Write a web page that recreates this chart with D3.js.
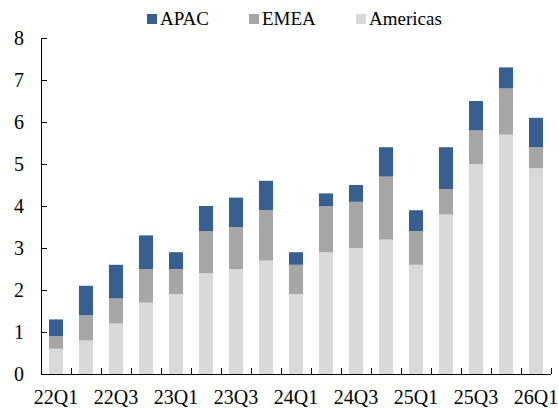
<!DOCTYPE html>
<html><head><meta charset="utf-8">
<script src="https://cdn.jsdelivr.net/npm/d3@7"></script>
<style>body{margin:0;background:#fff}svg{display:block}
svg text{font-family:"Liberation Serif","Times New Roman",Times,"DejaVu Serif",serif;fill:#000}</style>
</head><body>
<svg id="c" width="558" height="408"></svg>
<script>
const quarters = ["22Q1","22Q2","22Q3","22Q4","23Q1","23Q2","23Q3","23Q4","24Q1","24Q2","24Q3","24Q4","25Q1","25Q2","25Q3","25Q4","26Q1"];
const americas = [0.6,0.8,1.2,1.7,1.9,2.4,2.5,2.7,1.9,2.9,3.0,3.2,2.6,3.8,5.0,5.7,4.9];
const emea     = [0.3,0.6,0.6,0.8,0.6,1.0,1.0,1.2,0.7,1.1,1.1,1.5,0.8,0.6,0.8,1.1,0.5];
const apac     = [0.4,0.7,0.8,0.8,0.4,0.6,0.7,0.7,0.3,0.3,0.4,0.7,0.5,1.0,0.7,0.5,0.7];
const seriesNames = ["Americas","EMEA","APAC"];
const colors = {"Americas":"#d9d9d9","EMEA":"#a6a6a6","APAC":"#376092"};
const legendOrder = ["APAC","EMEA","Americas"];
const yTicks = [0,1,2,3,4,5,6,7,8];

const svg = d3.select("#c");
const x = d3.scaleBand().domain(quarters).range([41,551]).paddingInner(0.53).paddingOuter(0.265);
const y = d3.scaleLinear().domain([0,8]).range([374,38]);

const table = quarters.map((q,i)=>({q, Americas:americas[i], EMEA:emea[i], APAC:apac[i]}));
const stack = d3.stack().keys(seriesNames)(table);

svg.append("g").selectAll("g").data(stack).join("g")
  .attr("fill", d=>colors[d.key])
  .selectAll("rect").data(d=>d).join("rect")
  .attr("x", d=>x(d.data.q))
  .attr("width", x.bandwidth())
  .attr("y", d=>y(d[1]))
  .attr("height", d=>y(d[0])-y(d[1]));

// y axis
const ya = svg.append("g").attr("transform","translate(41,0)")
  .call(d3.axisRight(y).tickValues(yTicks).tickSize(6).tickFormat(d3.format("d")));
ya.attr("font-family",null).attr("font-size",null);
ya.select(".domain").attr("d","M0.5,38V374.5").attr("stroke","#000");
ya.selectAll(".tick line").attr("stroke","#000");
ya.selectAll(".tick text").attr("x",-17).attr("text-anchor","end")
  .style("font-size","20px").attr("dy","0.32em");

// x axis
const xg = svg.append("g");
xg.append("line").attr("x1",41).attr("x2",551).attr("y1",374.5).attr("y2",374.5).attr("stroke","#000");
const step = x.step();
const bounds = d3.range(1, quarters.length+1).map(i=>41+i*step);
xg.selectAll("line.t").data(bounds).join("line").attr("class","t")
  .attr("x1",d=>Math.round(d)+0.5).attr("x2",d=>Math.round(d)+0.5)
  .attr("y1",374).attr("y2",368).attr("stroke","#000");
xg.selectAll("text").data(quarters.filter((q,i)=>i%2===0)).join("text")
  .attr("x",d=>x(d)+x.bandwidth()/2).attr("y",404)
  .attr("text-anchor","middle").style("font-size","20px")
  .text(d=>d);

// legend
const legX = {"APAC":147,"EMEA":249,"Americas":356};
const lg = svg.append("g");
legendOrder.forEach(k=>{
  lg.append("rect").attr("x",legX[k]).attr("y",14).attr("width",10).attr("height",10).attr("fill",colors[k]);
  lg.append("text").attr("x",legX[k]+13).attr("y",25).style("font-size","19px").text(k);
});
</script>
</body></html>
